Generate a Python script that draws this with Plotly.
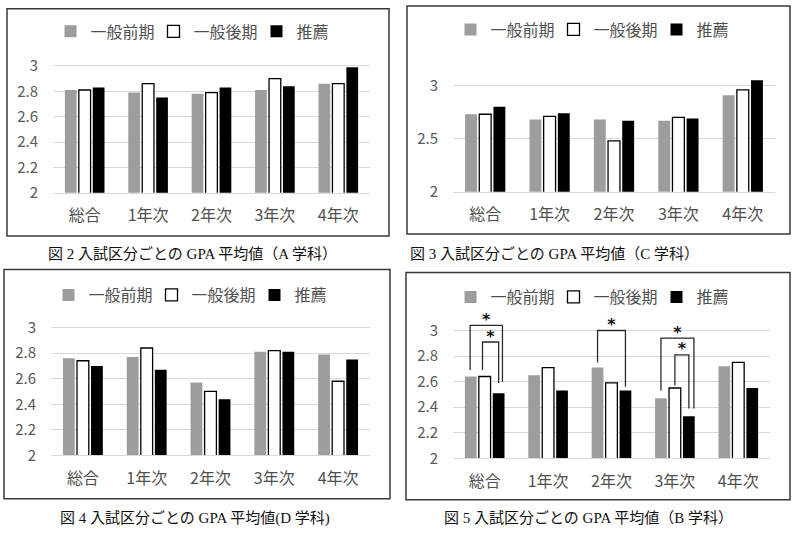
import plotly.graph_objects as go

W, H = 800, 548

categories = ["総合", "1年次", "2年次", "3年次", "4年次"]
series_names = ["一般前期", "一般後期", "推薦"]

# Panel A (図2)
a_zenki = [2.81, 2.79, 2.78, 2.81, 2.86]
a_kouki = [2.81, 2.86, 2.79, 2.90, 2.86]
a_suisen = [2.83, 2.75, 2.83, 2.84, 2.99]
# Panel C (図3)
c_zenki = [2.73, 2.68, 2.68, 2.67, 2.91]
c_kouki = [2.73, 2.71, 2.48, 2.70, 2.96]
c_suisen = [2.80, 2.74, 2.67, 2.69, 3.05]
# Panel D (図4)
d_zenki = [2.76, 2.77, 2.57, 2.81, 2.79]
d_kouki = [2.74, 2.84, 2.50, 2.82, 2.58]
d_suisen = [2.70, 2.67, 2.44, 2.81, 2.75]
# Panel B (図5)
b_zenki = [2.64, 2.65, 2.71, 2.47, 2.72]
b_kouki = [2.64, 2.71, 2.59, 2.55, 2.75]
b_suisen = [2.51, 2.53, 2.53, 2.33, 2.55]

# significance brackets in panel B: category, left series, right series, top, left-leg bottom, right-leg bottom, star height
bracket_cat = [0, 0, 2, 3, 3]
bracket_left = [0, 1, 0, 0, 1]
bracket_right = [2, 2, 2, 2, 2]
bracket_top = [3.04, 2.91, 3.00, 2.94, 2.81]
bracket_lbot = [2.69, 2.69, 2.75, 2.53, 2.57]
bracket_rbot = [2.60, 2.59, 2.56, 2.39, 2.39]
bracket_star = [3.075, 2.945, 3.035, 2.975, 2.845]

captions = ["図 2 入試区分ごとの GPA 平均値（A 学科）",
            "図 3 入試区分ごとの GPA 平均値（C 学科）",
            "図 4 入試区分ごとの GPA 平均値(D 学科)",
            "図 5 入試区分ごとの GPA 平均値（B 学科）"]

colors = ["#9d9d9d", "#ffffff", "#000000"]
line_colors = ["#9d9d9d", "#000000", "#000000"]

def px_x(p):
    return p / W

def px_y(p):
    return 1 - p / H

panels = [
    dict(data=[a_zenki, a_kouki, a_suisen], x=(53, 370), y2=196, y3=67, rng=(2, 3.1), dtick=0.2,
         leg=(205, 32), box=(7, 9, 389, 240), cap=(192, 258, "center")),
    dict(data=[c_zenki, c_kouki, c_suisen], x=(453, 775), y2=195, y3=87, rng=(2, 3.2), dtick=0.5,
         leg=(605, 30), box=(407, 6, 790, 238), cap=(408, 258, "left")),
    dict(data=[d_zenki, d_kouki, d_suisen], x=(51, 370), y2=463, y3=333, rng=(2, 3.1), dtick=0.2,
         leg=(203, 300), box=(4, 274, 390, 507), cap=(195, 527, "center")),
    dict(data=[b_zenki, b_kouki, b_suisen], x=(453, 770), y2=466, y3=336, rng=(2, 3.12), dtick=0.2,
         leg=(605, 302), box=(406, 277, 790, 508), cap=(588, 527, "center")),
]

fig = go.Figure()
xs = list(range(len(categories)))
layout = {}
shapes = []
annotations = []

for i, p in enumerate(panels):
    n = "" if i == 0 else str(i + 1)
    xa, ya = "x" + n, "y" + n
    legname = "legend" + n
    for k in range(3):
        fig.add_trace(go.Bar(
            x=xs, y=p["data"][k], name=series_names[k],
            marker=dict(color=colors[k], line=dict(color=line_colors[k], width=1.3 if k == 1 else 0)),
            xaxis=xa, yaxis=ya, legend=legname, offsetgroup=str(k),
        ))
    per = (p["y2"] - p["y3"])
    top_px = p["y2"] - (p["rng"][1] - 2) * per
    layout["xaxis" + n] = dict(
        domain=[px_x(p["x"][0]), px_x(p["x"][1])], anchor=ya, range=[-0.5, 4.5],
        tickvals=xs, ticktext=categories, showgrid=False, zeroline=False,
        showline=True, linecolor="#d9d9d9", linewidth=1, ticks="",
        tickfont=dict(family="Noto Sans CJK JP", size=16, color="#505050"),
        ticklabelstandoff=8, fixedrange=True,
    )
    layout["yaxis" + n] = dict(
        domain=[px_y(p["y2"]), px_y(top_px)], anchor=xa, range=list(p["rng"]),
        dtick=p["dtick"], tick0=2, showgrid=True, gridcolor="#d9d9d9", gridwidth=1,
        zeroline=False, showline=False, ticks="",
        tickfont=dict(family="Noto Sans CJK JP", size=15, color="#595959"),
        ticklabelstandoff=14, fixedrange=True,
    )
    layout[legname] = dict(
        orientation="h", x=px_x(p["leg"][0]), y=px_y(p["leg"][1]), xanchor="center", yanchor="middle",
        font=dict(family="Noto Sans CJK JP", size=16, color="#505050"),
        itemwidth=30, bgcolor="rgba(0,0,0,0)", traceorder="normal",
        entrywidth=58, entrywidthmode="pixels", tracegroupgap=0,
    )
    b = p["box"]
    shapes.append(dict(type="rect", xref="paper", yref="paper",
                       x0=px_x(b[0]), x1=px_x(b[2]), y0=px_y(b[3]), y1=px_y(b[1]),
                       line=dict(color="#3a3a3a", width=1.5), fillcolor="rgba(0,0,0,0)"))
    c = p["cap"]
    annotations.append(dict(text=captions[i], xref="paper", yref="paper", x=px_x(c[0]), y=px_y(c[1]),
                            xanchor=c[2], yanchor="middle", showarrow=False,
                            font=dict(family="Liberation Serif, Noto Sans CJK JP", size=15, color="#111111")))

# brackets on panel B (x4/y4)
slot = (1 - 0.34) / 3
series_off = [-slot, 0.0, slot]
right_nudge = [0.06, 0.0, 0.0, 0.08, 0.0]
left_nudge = [-0.01, -0.035, 0.0, 0.0, 0.0]
for j in range(len(bracket_cat)):
    x0 = bracket_cat[j] + series_off[bracket_left[j]] + left_nudge[j]
    x1 = bracket_cat[j] + series_off[bracket_right[j]] + right_nudge[j]
    fig.add_trace(go.Scatter(
        x=[x0, x0, x1, x1], y=[bracket_lbot[j], bracket_top[j], bracket_top[j], bracket_rbot[j]],
        mode="lines", line=dict(color="#2a2a2a", width=1.3), showlegend=False, hoverinfo="skip",
        xaxis="x4", yaxis="y4", cliponaxis=False,
    ))
    fig.add_trace(go.Scatter(
        x=[(x0 + x1) / 2], y=[bracket_star[j]], mode="text", text=["*"],
        textfont=dict(family="DejaVu Sans", size=16, color="#111111", weight="bold"),
        textposition="middle center",
        showlegend=False, hoverinfo="skip", xaxis="x4", yaxis="y4", cliponaxis=False,
    ))

fig.update_layout(
    width=W, height=H, margin=dict(l=0, r=0, t=0, b=0),
    paper_bgcolor="white", plot_bgcolor="white",
    barmode="group", bargap=0.34, bargroupgap=0.16,
    shapes=shapes, annotations=annotations, showlegend=True,
    **layout,
)

fig.write_html("out.html", config={"displayModeBar": False},
               post_script="document.body.style.margin='0';")
